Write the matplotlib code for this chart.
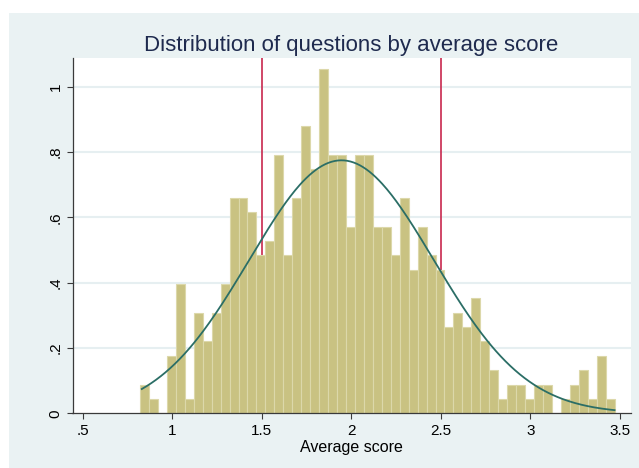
import numpy as np
import matplotlib
matplotlib.use("Agg")
import matplotlib.pyplot as plt
from matplotlib.patches import Rectangle

# ---- data ----
bin_start = 0.82
bin_width = 0.05
densities = [0.088, 0.044, 0.0, 0.176, 0.396, 0.044, 0.308, 0.220, 0.308, 0.396,
             0.659, 0.659, 0.615, 0.484, 0.527, 0.791, 0.484, 0.659, 0.879, 0.747,
             1.055, 0.791, 0.791, 0.571, 0.791, 0.791, 0.571, 0.571, 0.484, 0.659,
             0.440, 0.571, 0.484, 0.440, 0.264, 0.308, 0.264, 0.352, 0.220, 0.132,
             0.044, 0.088, 0.088, 0.044, 0.088, 0.088, 0.0, 0.044, 0.088, 0.132,
             0.044, 0.176, 0.044]
norm_mean = 1.945
norm_sd = 0.515
curve_range = (0.83, 3.47)
ref_lines = [1.5, 2.5]
xticks = [0.5, 1, 1.5, 2, 2.5, 3, 3.5]
xticklabels = [".5", "1", "1.5", "2", "2.5", "3", "3.5"]
yticks = [0, 0.2, 0.4, 0.6, 0.8, 1.0]
yticklabels = ["0", ".2", ".4", ".6", ".8", "1"]
title = "Distribution of questions by average score"
xlabel = "Average score"

plt.rcParams['font.family'] = ['Liberation Sans', 'DejaVu Sans']

W, H = 639, 468
fig = plt.figure(figsize=(W / 100, H / 100), dpi=100)
fig.patch.set_facecolor('white')
bg = Rectangle((9 / W, 0), 1 - 9 / W, (H - 13) / H, transform=fig.transFigure,
               facecolor='#EAF2F3', edgecolor='none', zorder=-10)
fig.add_artist(bg)

left, right = 72.5 / W, 630.7 / W
bottom, top = (H - 413.3) / H, (H - 58.3) / H
ax = fig.add_axes([left, bottom, right - left, top - bottom])
ax.set_zorder(1)
ax.set_facecolor('white')

# gridlines
for yt in yticks[1:]:
    ax.axhline(yt, color='#E6EFF1', lw=1.5, zorder=0.5)

# reference lines (behind bars)
for xl in ref_lines:
    ax.axvline(xl, color='#C8284E', lw=1.2, zorder=1)

edges = bin_start + bin_width * np.arange(len(densities))
ax.bar(edges, densities, width=bin_width, align='edge', color='#C9C282',
       edgecolor='#DCD8AA', linewidth=0.8, zorder=2)

xs = np.linspace(curve_range[0], curve_range[1], 300)
ys = np.exp(-0.5 * ((xs - norm_mean) / norm_sd) ** 2) / (norm_sd * np.sqrt(2 * np.pi))
ax.plot(xs, ys, color='#2B6E66', lw=1.3, zorder=3)

ax.set_xlim(0.443, 3.560)
ax.set_ylim(0, 1.087)

for s in ['top', 'right']:
    ax.spines[s].set_visible(False)
for s in ['left', 'bottom']:
    ax.spines[s].set_color('#3A3A3A')
    ax.spines[s].set_linewidth(0.9)

ax.set_xticks(xticks)
ax.set_xticklabels(xticklabels)
ax.set_yticks(yticks)
ax.set_yticklabels(yticklabels, rotation=90, va='center')
ax.tick_params(axis='both', length=4, width=0.8, color='#3A3A3A',
               labelsize=11, labelcolor='black')
ax.tick_params(axis='x', pad=4)
ax.tick_params(axis='y', pad=3)

ax.set_xlabel(xlabel, fontsize=11.5, labelpad=1, color='black')
ax.set_title(title, fontsize=16, color='#1E2A4E', pad=5)

fig.savefig('out.png', dpi=100)
